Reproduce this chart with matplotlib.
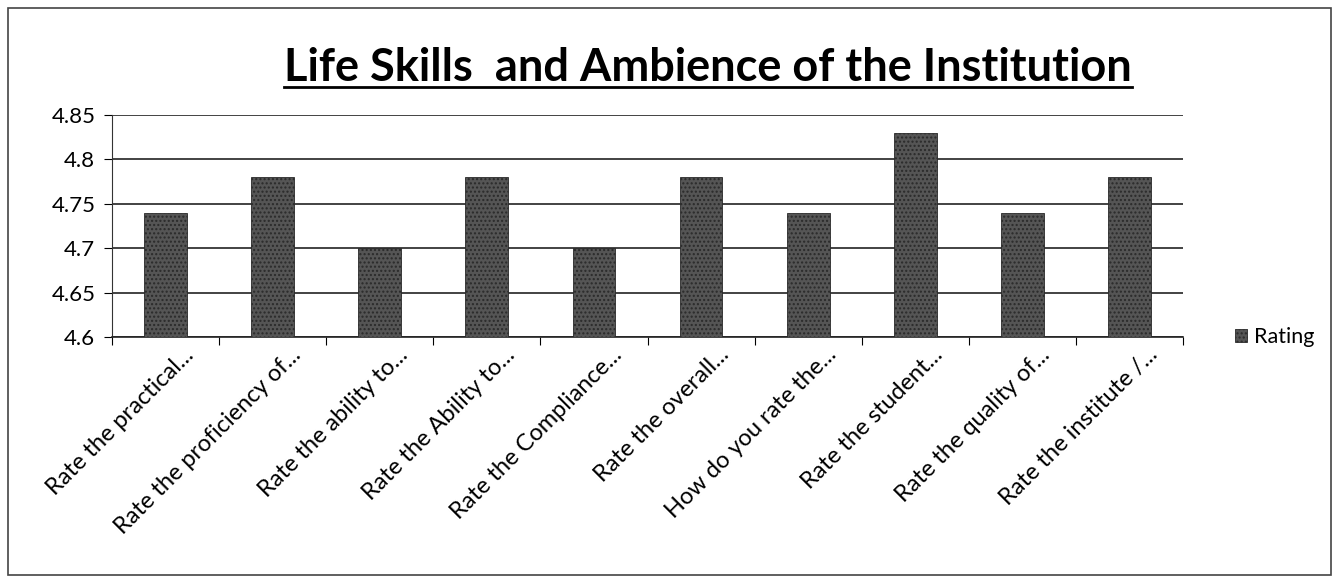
import matplotlib.pyplot as plt
import matplotlib.patches as mpatches

plt.rcParams['font.family'] = ['Lato', 'DejaVu Sans']

categories = ['Rate the practical...', 'Rate the proficiency of...', 'Rate the ability to...',
              'Rate the Ability to...', 'Rate the Compliance...', 'Rate the overall...',
              'How do you rate the...', 'Rate the student...', 'Rate the quality of...',
              'Rate the institute /...']
ratings = [4.74, 4.78, 4.70, 4.78, 4.70, 4.78, 4.74, 4.83, 4.74, 4.78]
yticks = [4.6, 4.65, 4.7, 4.75, 4.8, 4.85]
ytick_labels = ['4.6', '4.65', '4.7', '4.75', '4.8', '4.85']

fig = plt.figure(figsize=(13.4, 5.82), dpi=100)
# outer frame like the scanned chart border
fig.patches.append(mpatches.Rectangle((0.006, 0.012), 0.987, 0.975, transform=fig.transFigure,
                                      fill=False, edgecolor='#444444', lw=1.2))
ax = fig.add_axes([112/1340, 1-337/582, (1183-112)/1340, (337-115)/582])

x = range(len(categories))
ax.bar(x, [r - 4.6 for r in ratings], bottom=4.6, width=0.4, color='#555555',
       edgecolor='#2a2a2a', hatch='....', lw=0.6, label='Rating', zorder=3)
ax.set_xlim(-0.5, len(categories) - 0.5)
ax.set_ylim(4.6, 4.85)
ax.set_yticks(yticks)
ax.set_yticklabels(ytick_labels, fontsize=16)
ax.yaxis.grid(True, color='#222222', lw=1.2, zorder=0)
ax.set_xticks([i - 0.5 for i in range(len(categories) + 1)])
ax.set_xticklabels([])
ax.tick_params(axis='x', length=6, direction='out')
ax.tick_params(axis='y', length=6, direction='out', pad=6)
for i, lab in enumerate(categories):
    ax.text(i + 0.16, 4.592, lab, rotation=45, ha='right', va='top', fontsize=17,
            rotation_mode='anchor')
for s in ['top', 'right']:
    ax.spines[s].set_visible(False)
ax.spines['left'].set_color('#333333')
ax.spines['bottom'].set_color('#222222')
ax.spines['bottom'].set_linewidth(1.2)

title = fig.text(708/1340, 1-68/582, 'Life Skills  and Ambience of the Institution',
                 ha='center', va='center', fontsize=32.5, fontweight='bold')

leg = ax.legend(loc='center left', bbox_to_anchor=(1.03, 0.0), frameon=False, fontsize=15.5,
                handlelength=0.6, handleheight=0.6, handletextpad=0.3)

# underline the title across its own width
fig.canvas.draw()
bb = title.get_window_extent().transformed(fig.transFigure.inverted())
fig.add_artist(plt.Line2D([bb.x0, bb.x1], [bb.y0 + 0.004, bb.y0 + 0.004], color='black', lw=2))

plt.savefig('out.png', dpi=100)
